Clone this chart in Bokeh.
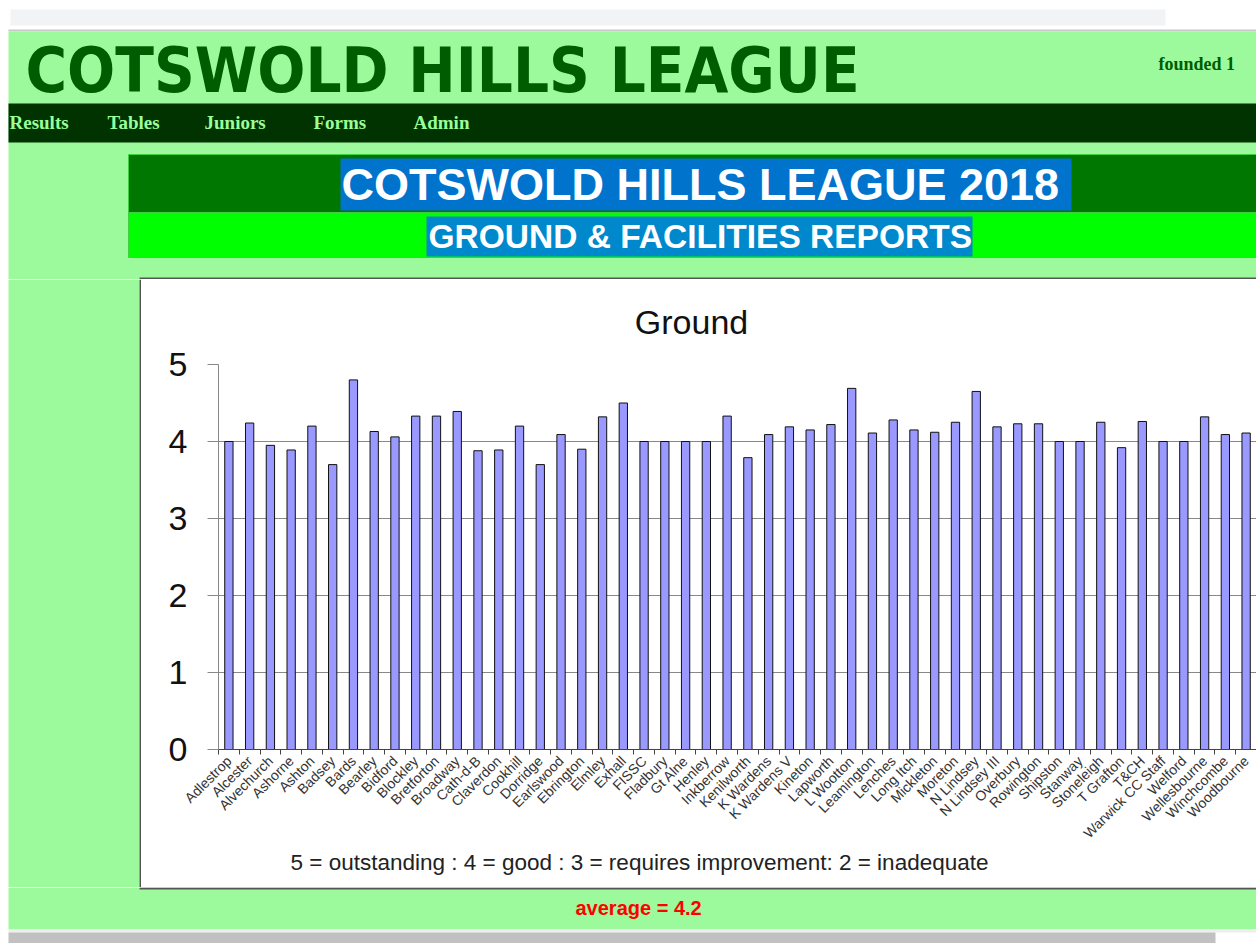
import math
from bokeh.plotting import figure
from bokeh.layouts import column, row
from bokeh.models import Range1d, FixedTicker
from bokeh.core.properties import value
from bokeh.embed import file_html
from bokeh.resources import INLINE

# ---------------- data ----------------
clubs = ["Adlestrop", "Alcester", "Alvechurch", "Ashorne", "Ashton", "Badsey", "Bards",
         "Bearley", "Bidford", "Blockley", "Bretforton", "Broadway", "Cath-d-B", "Claverdon",
         "Cookhill", "Dorridge", "Earlswood", "Ebrington", "Elmley", "Exhall", "FISSC",
         "Fladbury", "Gt Alne", "Henley", "Inkberrow", "Kenilworth", "K Wardens",
         "K Wardens V", "Kineton", "Lapworth", "L Wootton", "Leamington", "Lenches",
         "Long Itch", "Mickleton", "Moreton", "N Lindsey", "N Lindsey III", "Overbury",
         "Rowington", "Shipston", "Stanway", "Stoneleigh", "T Grafton", "T&CH",
         "Warwick CC Staff", "Welford", "Wellesbourne", "Winchcombe", "Woodbourne"]
ground_scores = [4.0, 4.24, 3.95, 3.89, 4.2, 3.7, 4.8,
                 4.13, 4.06, 4.33, 4.33, 4.39, 3.88, 3.89,
                 4.2, 3.7, 4.09, 3.9, 4.32, 4.5, 4.0,
                 4.0, 4.0, 4.0, 4.33, 3.79, 4.09,
                 4.19, 4.15, 4.22, 4.69, 4.11, 4.28,
                 4.15, 4.12, 4.25, 4.65, 4.19, 4.23,
                 4.23, 4.0, 4.0, 4.25, 3.92, 4.26,
                 4.0, 4.0, 4.32, 4.09, 4.11]
y_ticks = [0, 1, 2, 3, 4, 5]
chart_title = "Ground"
footnote = "5 = outstanding : 4 = good : 3 = requires improvement: 2 = inadequate"
average_text = "average = 4.2"
site_title = "COTSWOLD HILLS LEAGUE"
founded_text = "founded 1"
nav_items = ["Results", "Tables", "Juniors", "Forms", "Admin"]
banner_title = "COTSWOLD HILLS LEAGUE 2018"
banner_subtitle = "GROUND & FACILITIES REPORTS"

# ---------------- styles ----------------
PAGE_GREEN = "#9CFA9C"
BOX_BORDER = "#555555"
SANS = "Liberation Sans"
SERIF = "Liberation Serif"
W, H = 1256, 943
BOX_L = 141          # inner left edge of the white chart box
FRAME_L = 218        # left edge of the plotting frame
HEAD_B = 279         # bottom of the header strip (incl. box top border)


def deco(x0, x1, y0, y1, bg, pad_left=0):
    f = figure(width=x1 - x0 + pad_left, height=y1 - y0, x_range=Range1d(x0, x1),
               y_range=Range1d(y1, y0), x_axis_type=None, y_axis_type=None,
               toolbar_location=None, output_backend="svg", min_border=0,
               min_border_left=pad_left)
    f.grid.grid_line_color = None
    f.outline_line_color = None
    f.background_fill_color = bg
    f.border_fill_color = bg
    return f


def box(f, l, r, t, b, color, line=None):
    f.quad(left=[l], right=[r], top=[t], bottom=[b], fill_color=color,
           line_color=line, line_width=1)


def txt(f, x, y, s, font, size, color, style="normal", align="left"):
    f.text(x=[x], y=[y], text=[s], text_font=value(font), text_font_size=value(size),
           text_font_style=style, text_color=color, text_align=align,
           text_baseline="middle")


# ---------------- header (page y 0..279) ----------------
header = deco(0, W, 0, HEAD_B, "white")
box(header, 10, 1165, 9, 25, "#F1F3F4")
box(header, 8, W, 29, 31, "#C8C8C8")
box(header, 8, W, 31, HEAD_B, PAGE_GREEN)
txt(header, 25, 70, site_title, "DejaVu Sans Condensed", "63px", "#005C00", style="bold")
txt(header, 1158, 63, founded_text, SERIF, "18px", "#005C00", style="bold")
box(header, 8, W, 103, 142, "#003300")
nav_x = [9, 107, 204, 313, 413]
for xx, item in zip(nav_x, nav_items):
    txt(header, xx, 122, item, SERIF, "19px", "#99FF99", style="bold")
box(header, 128, W, 154, 212, "#007700", line="#3FD03F")
box(header, 340, 1071, 158, 210, "#0074CC")
txt(header, 341, 184, banner_title, SANS, "45px", "white", style="bold")
box(header, 128, W, 212, 257, "#00FF00", line="#3FD03F")
box(header, 426, 972, 216, 256, "#0088CC")
txt(header, 428, 236, banner_subtitle, SANS, "33.5px", "white", style="bold")
box(header, 139, W, 277, HEAD_B, BOX_BORDER)

# ---------------- left green strip with box border ----------------
left = deco(0, BOX_L, HEAD_B, 887, "white")
box(left, 8, 139, HEAD_B, 887, PAGE_GREEN)
box(left, 139, BOX_L, HEAD_B, 887, BOX_BORDER)

# ---------------- chart title (frame aligned with chart frame) ----------------
title_fig = deco(FRAME_L, W, HEAD_B, 345, "white", pad_left=FRAME_L - BOX_L)
txt(title_fig, 691, 321, chart_title, SANS, "34px", "#111111", align="center")

# ---------------- chart ----------------
idx = list(range(len(clubs)))
boundaries = [i - 0.5 for i in range(len(clubs) + 1)]
chart = figure(width=W - BOX_L, height=504, x_range=Range1d(-0.5, len(clubs) - 0.5),
               y_range=Range1d(0, 5), toolbar_location=None, output_backend="svg",
               min_border_left=FRAME_L - BOX_L, min_border_right=0, min_border_top=19,
               min_border_bottom=100)
chart.background_fill_color = "white"
chart.border_fill_color = "white"
chart.outline_line_color = None
chart.vbar(x=idx, top=ground_scores, width=0.4, bottom=0,
           fill_color="#9999FF", line_color="#111111", line_width=1)

xa = chart.xaxis[0]
xa.ticker = FixedTicker(ticks=idx, minor_ticks=boundaries)
xa.major_label_overrides = {i: c for i, c in enumerate(clubs)}
xa.major_label_orientation = math.pi / 4
xa.major_tick_out = 0
xa.major_tick_in = 0
xa.minor_tick_out = 5
xa.minor_tick_in = 0
xa.major_label_standoff = 4
xa.axis_line_color = "#444444"
xa.minor_tick_line_color = "#444444"
xa.major_label_text_font = SANS
xa.major_label_text_font_size = "14px"
xa.major_label_text_color = "#333333"
chart.xgrid.visible = False

ya = chart.yaxis[0]
ya.ticker = FixedTicker(ticks=y_ticks)
ya.major_tick_out = 11
ya.major_tick_in = 0
ya.minor_tick_line_color = None
ya.major_label_standoff = 20
ya.axis_line_color = "#888888"
ya.major_tick_line_color = "#888888"
ya.major_label_text_font = SANS
ya.major_label_text_font_size = "34px"
ya.major_label_text_color = "#111111"
chart.ygrid.ticker = FixedTicker(ticks=y_ticks)
chart.ygrid.grid_line_color = "#888888"

# ---------------- footnote (frame aligned with chart frame) ----------------
foot = deco(FRAME_L, W, 849, 887, "white", pad_left=FRAME_L - BOX_L)
txt(foot, 290, 862, footnote, SANS, "22.5px", "#222222")

# ---------------- bottom ----------------
bottom = deco(0, W, 887, H, "white")
box(bottom, 8, W, 887, 929, PAGE_GREEN)
box(bottom, 139, W, 887, 889, BOX_BORDER)
box(bottom, 8, W, 929, 932, "#EEEEEE")
box(bottom, 8, 1215, 932, H, "#C1C1C1")
txt(bottom, 575, 907, average_text, SANS, "20px", "#FF0000", style="bold")

layout = column(header, row(left, column(title_fig, chart, foot)), bottom)
open("out.html", "w").write(file_html(layout, INLINE))
